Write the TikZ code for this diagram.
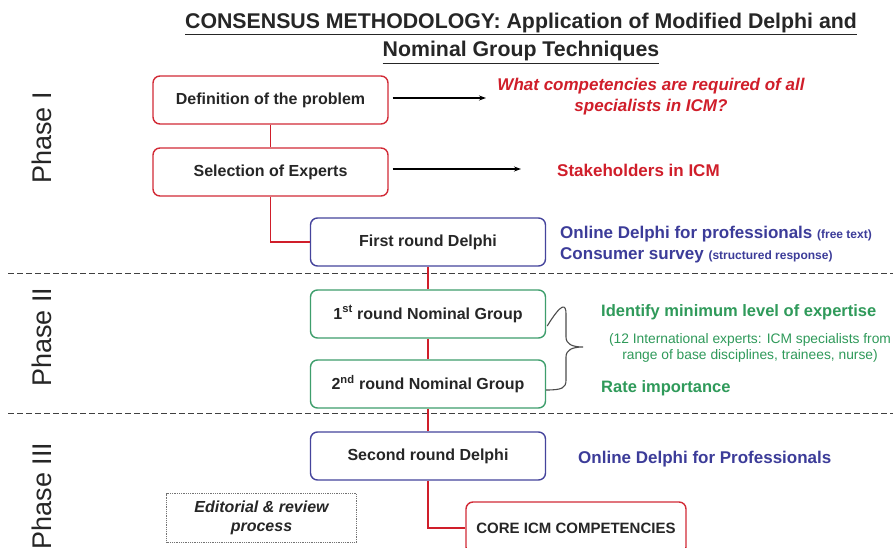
\documentclass[tikz,border=0pt]{standalone}
\usepackage{fontspec}
\setmainfont{Liberation Sans}
\usetikzlibrary{arrows.meta}
\definecolor{bred}{HTML}{D22A36}
\definecolor{tred}{HTML}{D01E2A}
\definecolor{bblue}{HTML}{45449C}
\definecolor{tblue}{HTML}{3C3C99}
\definecolor{bgreen}{HTML}{3E9E6C}
\definecolor{tgreen}{HTML}{2F9A5A}
\newcommand{\fsz}[1]{\fontsize{#1}{#1}\selectfont}
\tikzset{
  stepbox/.style={draw, line width=1.4pt, rounded corners=7pt, fill=white,
    minimum width=235pt, minimum height=48pt, inner sep=0pt,
    font=\fsz{16}\bfseries, text=black!85},
  redbox/.style={stepbox, draw=bred},
  bluebox/.style={stepbox, draw=bblue},
  greenbox/.style={stepbox, draw=bgreen},
  link/.style={draw=tred, line width=1.6pt},
  blackarrow/.style={draw=black, line width=1.3pt, -{Stealth[length=7pt,width=5pt]}},
  phase/.style={rotate=90, font=\fsz{27}, text=black!85},
  sepline/.style={draw=black!75, line width=1pt, dash pattern=on 6pt off 3pt},
  note/.style={font=\fsz{17}\bfseries, inner sep=0pt},
}
\begin{document}
\begin{tikzpicture}[x=1pt,y=-1pt]
\clip (0,0) rectangle (893,548);
\fill[white] (0,0) rectangle (893,548);

% title
\node[align=center, font=\fsz{21.3}\bfseries, text=black!85, inner sep=0pt] (title) at (521,38)
  {\underline{CONSENSUS METHODOLOGY: Application of Modified Delphi and}\\[6pt]
   \underline{Nominal Group Techniques}};

% separators
\draw[sepline] (8,273) -- (893,273);
\draw[sepline] (8,413) -- (893,413);

% phase labels
\node[phase] (p1) at (42,138) {Phase I};
\node[phase] (p2) at (42,337) {Phase II};
\node[phase] (p3) at (42,496) {Phase III};

% boxes
\node[redbox] (def) at (270.5,100) {Definition of the problem};
\node[redbox] (sel) at (270.5,172) {Selection of Experts};
\node[bluebox] (frd) at (428,242) {First round Delphi};
\node[greenbox] (ng1) at (428,314) {1\textsuperscript{st} round Nominal Group};
\node[greenbox] (ng2) at (428,384) {2\textsuperscript{nd} round Nominal Group};
\node[bluebox] (srd) at (428,456) {Second round Delphi};
\node[redbox, minimum width=220pt, minimum height=52pt, font=\fsz{15}\bfseries] (core) at (576,528) {};
\node[font=\fsz{15}\bfseries, text=black!85] (coretxt) at (576,528) {CORE ICM COMPETENCIES};
\node[draw=black!55, densely dotted, line width=0.8pt, minimum width=190pt, minimum height=49pt,
      align=center, font=\fsz{16}\bfseries\itshape, text=black!85, inner sep=0pt] (edit) at (261.5,518)
      {Editorial \& review\\[3pt]process};

% connectors
\draw[link] (def.south) -- (sel.north);
\draw[link] (sel.south) |- (frd.west);
\draw[link] (frd.south) -- (ng1.north);
\draw[link] (ng1.south) -- (ng2.north);
\draw[link] (ng2.south) -- (srd.north);
\draw[link] (srd.south) |- (core.west);

% arrows
\coordinate (a1) at (486,98);
\coordinate (a2) at (521,169);
\draw[blackarrow] ([xshift=4pt]def.east |- a1) -- (a1);
\draw[blackarrow] ([xshift=4pt]sel.east |- a2) -- (a2);

% annotations
\node[note, font=\fsz{17}\bfseries\itshape, text=tred, align=center] (q) at (651,97)
  {What competencies are required of all\\[4pt]specialists in ICM?};
\node[note, text=tred, anchor=west] (stake) at (557,170) {Stakeholders in ICM};
\node[note, text=tblue, anchor=west] (od1) at (560,234)
  {Online Delphi for professionals {\fsz{12}(free text)}};
\node[note, text=tblue, anchor=west] (cs) at (560,255)
  {Consumer survey {\fsz{12}(structured response)}};
\node[note, font=\fsz{16.5}\bfseries, text=tgreen, anchor=west] (ident) at (601,312) {Identify minimum level of expertise};
\node[font=\fsz{13.8}, text=tgreen, align=center, inner sep=0pt] (twelve) at (750,348)
  {(12 International experts: ICM specialists from\\[2pt]range of base disciplines, trainees, nurse)};
\node[note, font=\fsz{16.5}\bfseries, text=tgreen, anchor=west] (rate) at (601,388) {Rate importance};
\node[note, text=tblue, anchor=west] (od2) at (578,459) {Online Delphi for Professionals};

% brace
\draw[draw=black!70, line width=1.1pt]
  (ng1.east) ++(1pt,-12pt) coordinate (bt)
  (bt) .. controls (562,302) and (566,304) .. (566,314) -- (566,337)
  .. controls (566,344) and (572,347) .. (583,347)
  .. controls (572,347) and (566,350) .. (566,357) -- (566,380)
  .. controls (566,388) and (562,390) .. (546,390);
\end{tikzpicture}
\end{document}
